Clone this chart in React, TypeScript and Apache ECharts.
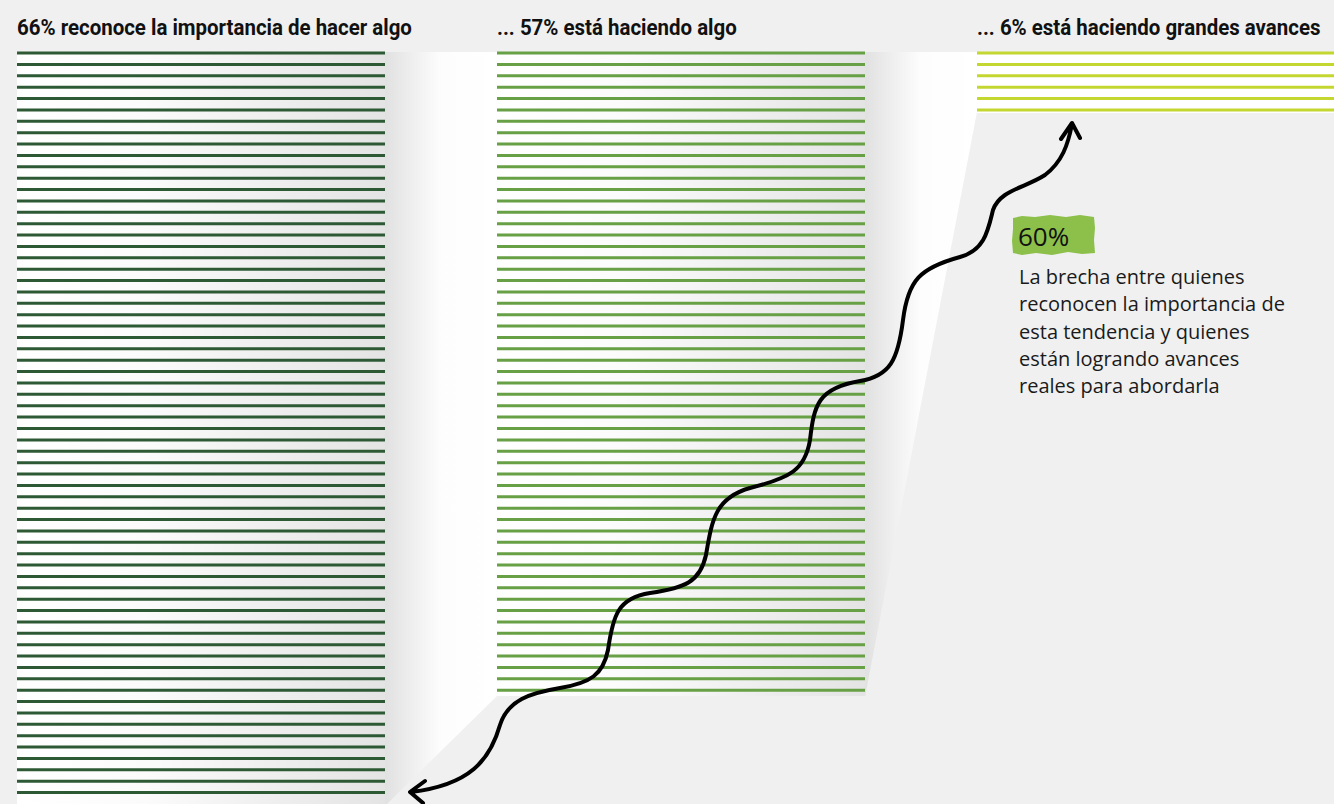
import React, { useEffect, useRef } from "react";
import * as echarts from "echarts";

// ---- data ----
const categories = [
  "66% reconoce la importancia de hacer algo",
  "... 57% está haciendo algo",
  "... 6% está haciendo grandes avances",
];
const values = [66, 57, 6];
const lineColors = ["#2d5a35", "#67a045", "#c4d630"];
const gapValue = "60%";
const gapText = [
  "La brecha entre quienes",
  "reconocen la importancia de",
  "esta tendencia y quienes",
  "están logrando avances",
  "reales para abordarla",
];

const COL_W = 368 / 480; // column width in column units
const TITLE_FONT = "bold 22px Roboto";

const wavePath =
  "M 411 792 C 470 785, 490 760, 500 725 C 508 700, 530 693, 560 688 C 590 683, 603 675, 608 650 " +
  "C 613 615, 618 598, 650 593 C 685 588, 700 582, 706 555 C 712 520, 715 498, 750 488 " +
  "C 790 478, 805 470, 810 440 C 814 405, 818 388, 860 381 C 890 376, 898 360, 903 320 " +
  "C 908 280, 920 268, 960 257 C 985 250, 988 230, 993 210 C 1000 190, 1025 188, 1045 175 " +
  "C 1062 162, 1068 145, 1072 124 " +
  "M 1061 139 L 1072 123 L 1080 138 " +
  "M 425 781 L 410 792 L 423 803";

echarts.graphic.registerShape("wave", echarts.graphic.extendPath(wavePath, {}));

function measure(text: string, font: string) {
  const c = document.createElement("canvas").getContext("2d")!;
  c.font = font;
  return c.measureText(text).width;
}

export default function App() {
  const ref = useRef<HTMLDivElement>(null);
  useEffect(() => {
    document.body.style.margin = "0";
    const chart = echarts.init(ref.current!, null, { renderer: "svg" });
    const data: number[][] = [];
    values.forEach((v, c) => {
      for (let k = 0; k < v; k++) data.push([c, k]);
    });
    const w0 = measure(categories[0], TITLE_FONT);
    const sx = w0 > 0 ? Math.min(1, 395 / w0) : 0.85;
    const LG = echarts.graphic.LinearGradient;
    const colGrad = () =>
      new LG(0, 0, 1, 0, [
        { offset: 0, color: "#ffffff" },
        { offset: 0.35, color: "#fbfbfb" },
        { offset: 1, color: "#e4e4e4" },
      ]);
    const gapGrad = () =>
      new LG(0, 0, 1, 0, [
        { offset: 0, color: "#e1e1e1" },
        { offset: 0.5, color: "#fdfdfd" },
        { offset: 1, color: "#ffffff" },
      ]);
    const titles = categories.map((t, i) => ({
      type: "text",
      z: 100,
      x: 17 + i * 480,
      y: 27,
      scaleX: sx,
      scaleY: 1,
      style: {
        text: t,
        fontFamily: "Roboto, sans-serif",
        fontWeight: "bold",
        fontSize: 22,
        fill: "#111111",
        verticalAlign: "middle",
      },
    }));
    const option: any = {
      animation: false,
      backgroundColor: "#f0f0f0",
      grid: { left: 17, right: 0, top: 53, height: 66 * 11.45 },
      xAxis: { type: "value", min: 0, max: 1317 / 480, show: false },
      yAxis: { type: "value", min: 0, max: 66, inverse: true, show: false },
      graphic: [
        { type: "rect", z: -10, shape: { x: 17, y: 52, width: 368, height: 760 }, style: { fill: colGrad() } },
        { type: "polygon", z: -10, shape: { points: [[385, 52], [497, 52], [497, 696], [385, 806]] }, style: { fill: gapGrad() } },
        { type: "rect", z: -10, shape: { x: 497, y: 52, width: 368, height: 644 }, style: { fill: colGrad() } },
        { type: "polygon", z: -10, shape: { points: [[865, 52], [977, 52], [977, 112], [865, 697]] }, style: { fill: gapGrad() } },
        { type: "rect", z: -10, shape: { x: 977, y: 52, width: 357, height: 61 }, style: { fill: "#ffffff" } },
        ...titles,
        {
          type: "wave",
          z: 100,
          x: 0,
          y: 0,
          scaleX: 1,
          scaleY: 1,
          style: { fill: "none", stroke: "#000000", lineWidth: 4, lineCap: "round", lineJoin: "round" },
        },
        {
          type: "polygon",
          z: 100,
          shape: {
            points: [
              [1013, 218], [1022, 216], [1035, 217], [1050, 215], [1066, 217], [1080, 215], [1094, 217],
              [1095, 228], [1094, 240], [1095, 253], [1082, 254], [1068, 252], [1052, 255], [1036, 253],
              [1022, 255], [1013, 253], [1012, 241], [1013, 229],
            ],
          },
          style: { fill: "#8cc04b" },
        },
        {
          type: "text",
          z: 101,
          x: 1018,
          y: 236,
          style: { text: gapValue, fontFamily: "'Open Sans', sans-serif", fontSize: 26, fill: "#111111", verticalAlign: "middle" },
        },
        {
          type: "text",
          z: 101,
          x: 1019,
          y: 263,
          style: {
            text: gapText.join("\n"),
            fontFamily: "'Open Sans', sans-serif",
            fontSize: 20,
            lineHeight: 27.3,
            fill: "#1a1a1a",
            verticalAlign: "top",
          },
        },
      ],
      series: [
        {
          type: "custom",
          data,
          renderItem: (params: any, api: any) => {
            const c = api.value(0);
            const k = api.value(1);
            const p0 = api.coord([c, k]);
            const p1 = api.coord([c + COL_W, k]);
            return {
              type: "rect",
              shape: { x: p0[0], y: p0[1] - 1.5, width: p1[0] - p0[0], height: 3 },
              style: { fill: lineColors[c] },
            };
          },
        },
      ],
    };
    chart.setOption(option);
    return () => chart.dispose();
  }, []);
  return <div ref={ref} style={{ width: 1334, height: 804 }} />;
}
